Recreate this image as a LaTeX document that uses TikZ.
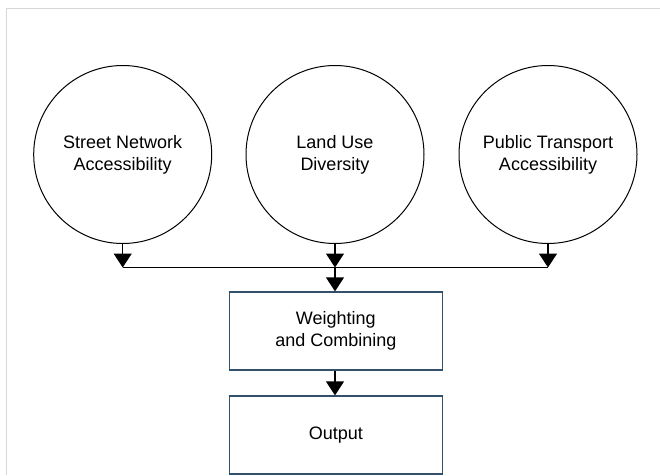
\documentclass[tikz,border=0pt]{standalone}
\usepackage{fontspec}
\setmainfont{Liberation Sans}
\usetikzlibrary{arrows.meta}

\definecolor{boxline}{RGB}{50,80,105}
\definecolor{frameline}{RGB}{215,215,215}

\tikzset{every picture/.style={line width=0.75pt}}
\tikzset{
  factor/.style={draw, circle, minimum size=133.5pt, inner sep=0pt, align=center, font=\fontsize{13.5pt}{16.5pt}\selectfont},
  stagebox/.style={draw=boxline, line width=1pt, rectangle, minimum width=159.75pt, minimum height=58.5pt, align=center, font=\fontsize{13.5pt}{16.5pt}\selectfont},
  flow/.style={line width=1pt, -{Triangle[width=13.5pt,length=10.5pt]}}
}

\begin{document}
\begin{tikzpicture}[x=0.75pt,y=0.75pt,yscale=-1,xscale=1]
    \useasboundingbox (0,0) rectangle (660,475);
    \draw [color=frameline] (6,475) -- (6,8) -- (660,8) ;
    % factors
    \node [factor] (snet) at (122.7,154.5) {Street Network\\Accessibility};
    \node [factor] (landuse) at (335,154.5) {Land Use\\Diversity};
    \node [factor] (ptrans) at (548,154.5) {Public Transport\\Accessibility};
    % stages
    \node [stagebox] (weight) at (335.8,331) {Weighting\\and Combining};
    \node [stagebox] (output) at (335.8,435) {Output};
    % junction line
    \coordinate (jl) at (122.7,267.5);
    \coordinate (jm) at (335,267.5);
    \coordinate (jr) at (548,267.5);
    \draw [flow] (snet.south) -- (jl);
    \draw [flow] (landuse.south) -- (jm);
    \draw [flow] (ptrans.south) -- (jr);
    \draw [line width=1pt] (jl) -- (jr);
    \draw [flow] (jm) -- (jm |- weight.north);
    \draw [flow] (jm |- weight.south) -- (jm |- output.north);
\end{tikzpicture}
\end{document}
